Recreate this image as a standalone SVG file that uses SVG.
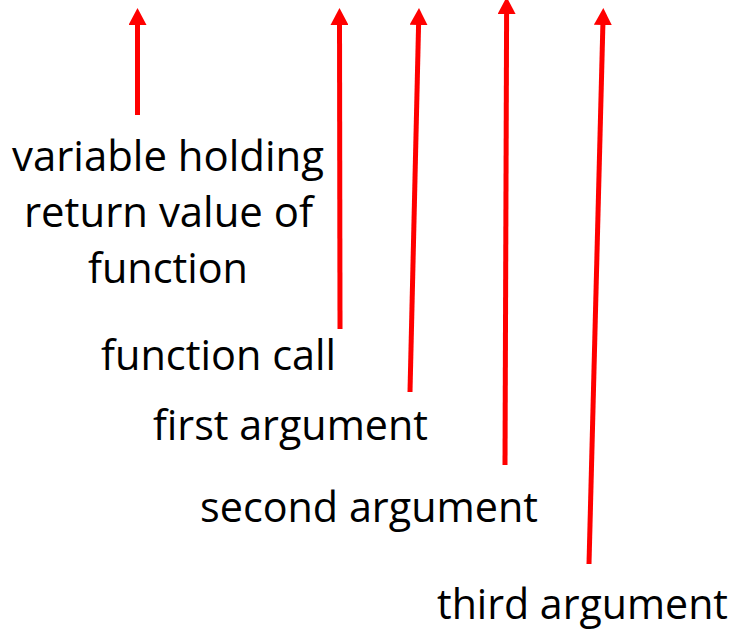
<svg xmlns="http://www.w3.org/2000/svg" width="736" height="631" viewBox="0 0 736 631">
<style>
.lbl{font-family:"Open Sans","Noto Sans",sans-serif;font-size:42px;fill:#000}
.arr{stroke:#ff0000;stroke-width:5;fill:none}
</style>
<defs>
<marker id="ah" markerUnits="userSpaceOnUse" markerWidth="17" markerHeight="18" refX="1" refY="9" orient="auto" viewBox="0 0 17 18">
<path d="M0,0 L17,9 L0,18 z" fill="#ff0000"/>
</marker>
</defs>
<rect width="736" height="631" fill="#fff"/>
<g id="connectors">
<line class="arr" x1="137.5" y1="115" x2="137.5" y2="24" marker-end="url(#ah)"/>
<line class="arr" x1="340" y1="329" x2="339.5" y2="24" marker-end="url(#ah)"/>
<line class="arr" x1="410" y1="392" x2="418.6" y2="24" marker-end="url(#ah)"/>
<line class="arr" x1="505" y1="465" x2="506.6" y2="13" marker-end="url(#ah)"/>
<line class="arr" x1="589" y1="564" x2="602.9" y2="24" marker-end="url(#ah)"/>
</g>
<g id="variable">
<text class="lbl" x="12" y="171" textLength="312" lengthAdjust="spacingAndGlyphs">variable holding</text>
<text class="lbl" x="24" y="227" textLength="289" lengthAdjust="spacingAndGlyphs">return value of</text>
<text class="lbl" x="88" y="283" textLength="160" lengthAdjust="spacingAndGlyphs">function</text>
</g>
<g id="call">
<text class="lbl" x="101" y="370" textLength="235" lengthAdjust="spacingAndGlyphs">function call</text>
</g>
<g id="first">
<text class="lbl" x="153" y="440" textLength="275" lengthAdjust="spacingAndGlyphs">first argument</text>
</g>
<g id="second">
<text class="lbl" x="200" y="522" textLength="338" lengthAdjust="spacingAndGlyphs">second argument</text>
</g>
<g id="third">
<text class="lbl" x="437" y="619" textLength="291" lengthAdjust="spacingAndGlyphs">third argument</text>
</g>
</svg>
